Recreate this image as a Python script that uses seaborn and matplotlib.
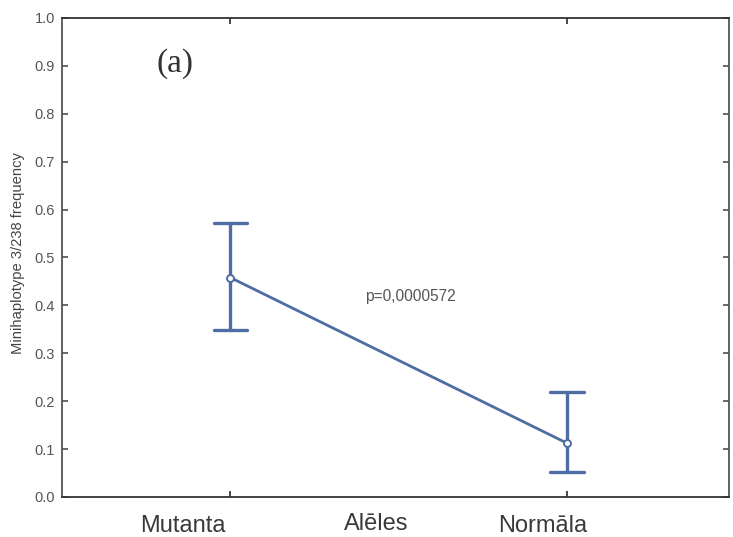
import matplotlib
matplotlib.use("Agg")
import matplotlib.pyplot as plt
import seaborn as sns
import pandas as pd

categories = ["Mutanta", "Normāla"]
means = [0.458, 0.112]
ci_low = [0.349, 0.053]
ci_high = [0.573, 0.220]
y_ticks = [0.0, 0.1, 0.2, 0.3, 0.4, 0.5, 0.6, 0.7, 0.8, 0.9, 1.0]
p_text = "p=0,0000572"

rows = []
for c, lo, m, hi in zip(categories, ci_low, means, ci_high):
    for v in (lo, m, hi):
        rows.append({"group": c, "freq": v})
df = pd.DataFrame(rows)

sns.set_theme(style="white")
plt.rcParams["font.family"] = ["Liberation Sans", "DejaVu Sans"]

fig = plt.figure(figsize=(7.33, 5.37), dpi=100)
ax = fig.add_axes([0.0846, 0.0745, 0.91, 0.892])

color = "#4d6da3"
sns.pointplot(data=df, x="group", y="freq", order=categories,
              estimator="median", errorbar=("pi", 100),
              color=color, capsize=0.10, linewidth=2,
              err_kws={"linewidth": 2.4},
              markers="o", markersize=5,
              ax=ax)
for line in ax.lines:
    if line.get_marker() == "o":
        line.set_markerfacecolor("white")
        line.set_markeredgecolor(color)
        line.set_markeredgewidth(1.4)
        line.set_zorder(5)

ax.set_xlim(-0.5, 1.48)
ax.set_ylim(0, 1.0)
ax.set_yticks(y_ticks)
ax.set_yticklabels([f"{t:.1f}" for t in y_ticks], fontsize=10.5, color="#555555")

# major ticks at category positions (no labels); labels as minor ticks
ax.set_xticks([0, 1])
ax.set_xticklabels(["", ""])
label_pos = [-0.142, 0.926]
ax.set_xticks(label_pos, minor=True)
ax.set_xticklabels(categories, minor=True, fontsize=17, color="#3a3a3a")
ax.tick_params(axis="x", which="major", direction="in", length=4,
               top=True, bottom=True, color="#333333")
ax.tick_params(axis="x", which="minor", length=0, pad=13, top=False, bottom=True)
ax.tick_params(axis="y", which="both", direction="in", length=4, pad=5,
               left=True, right=True, color="#555555")

for s in ax.spines.values():
    s.set_color("#555555")
    s.set_linewidth(1.3)
ax.spines["top"].set_color("#333333")
ax.spines["bottom"].set_color("#333333")

ax.set_xlabel("Alēles", fontsize=17, color="#3a3a3a")
ax.xaxis.set_label_coords(0.471, -0.033)
ax.set_ylabel("Minihaplotype 3/238 frequency", fontsize=10.6, color="#444444")
ax.yaxis.set_label_coords(-0.055, 0.51)

ax.text(0.40, 0.418, p_text, fontsize=11.2, color="#555555",
        ha="left", va="center", transform=ax.transData)
ax.text(0.142, 0.905, "(a)", fontsize=24, color="#333333",
        family="Liberation Serif", ha="left", va="center",
        transform=ax.transAxes)

fig.savefig("out.png", dpi=100)
